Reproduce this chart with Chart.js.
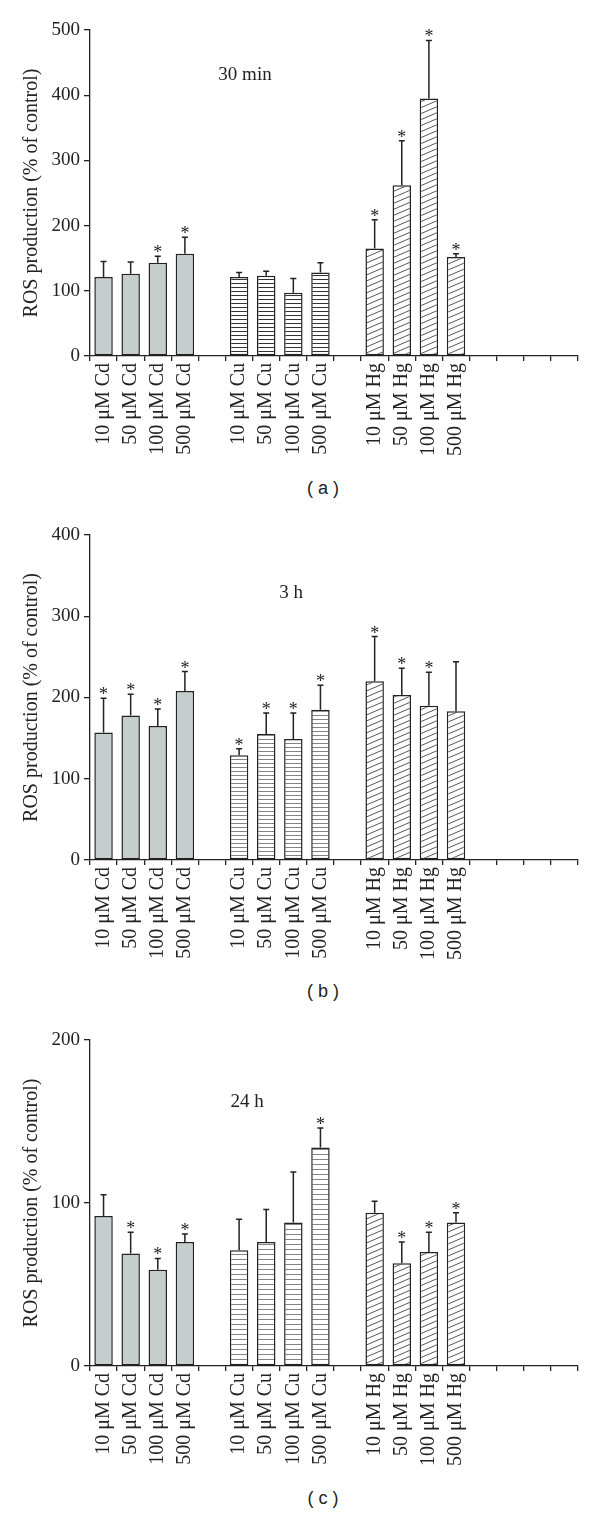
<!DOCTYPE html>
<html>
<head>
<meta charset="utf-8">
<title>ROS production</title>
<script src="https://cdn.jsdelivr.net/npm/chart.js@4.4.1/dist/chart.umd.min.js"></script>
<style>
  body{margin:0;background:#fff;}
  #page{position:relative;width:600px;height:1515px;overflow:hidden;}
  #page canvas{position:absolute;left:0;}
  .cap{position:absolute;left:0;width:646px;height:24px;line-height:24px;text-align:center;
       font:18px "Liberation Sans",Arial,sans-serif;color:#222;}
</style>
</head>
<body>
<div id="page">
  <canvas id="chartA" width="600" height="470" style="top:0px"></canvas>
  <div class="cap" style="top:478px">( a )</div>
  <canvas id="chartB" width="600" height="470" style="top:500px"></canvas>
  <div class="cap" style="top:981px">( b )</div>
  <canvas id="chartC" width="600" height="470" style="top:1010px"></canvas>
  <div class="cap" style="top:1488px">( c )</div>
</div>
<script>
// x axis: 4 doses per metal, one blank slot between metals, 4 blank slots at the end
const doses = ['10', '50', '100', '500'];
const metals = ['Cd', 'Cu', 'Hg'];
const trailingBlanks = 4;

// values (% of control), order: Cd x4, Cu x4, Hg x4
const mean30min = [121, 126, 143, 157, 121, 123, 97, 128, 165, 262, 395, 152];
const sd30min   = [24, 18, 10, 25, 7, 7, 22, 15, 44, 68, 89, 5];
const sig30min  = [0, 0, 1, 1, 0, 0, 0, 0, 1, 1, 1, 1];

const mean3h = [157, 178, 165, 208, 129, 155, 149, 185, 220, 203, 190, 183];
const sd3h   = [42, 26, 21, 24, 8, 26, 32, 30, 55, 33, 41, 61];
const sig3h  = [1, 1, 1, 1, 1, 1, 1, 1, 1, 1, 1, 0];

const mean24h = [92, 69, 59, 76, 71, 76, 88, 134, 94, 63, 70, 88];
const sd24h   = [13, 13, 7, 5, 19, 20, 31, 12, 7, 13, 12, 6];
const sig24h  = [0, 1, 1, 1, 0, 0, 0, 1, 0, 1, 1, 1];

const INK = '#222';
const SERIF = '"Liberation Serif", "Times New Roman", serif';
const CD_FILL = '#c5cecc';

// spread 12 values over the 18 category slots
function spread(arr){
  const out = [];
  metals.forEach((m, g) => {
    if(g > 0) out.push(null);
    out.push(...arr.slice(g * doses.length, (g + 1) * doses.length));
  });
  for(let i = 0; i < trailingBlanks; i++) out.push(null);
  return out;
}

const labels = spread(metals.flatMap(m => doses.map(d => d + ' \u03bcM ' + m))).map(l => l || '');
const metalOf = spread(metals.flatMap(m => doses.map(() => m)));

function hLines(gap){
  const c = document.createElement('canvas');
  c.width = 8; c.height = gap;
  const g = c.getContext('2d');
  g.fillStyle = '#fff'; g.fillRect(0, 0, 8, gap);
  g.fillStyle = '#333'; g.fillRect(0, gap - 1, 8, 1);
  return g.createPattern(c, 'repeat');
}
function dLines(w, h){
  const c = document.createElement('canvas');
  c.width = w; c.height = h;
  const g = c.getContext('2d');
  g.fillStyle = '#fff'; g.fillRect(0, 0, w, h);
  g.strokeStyle = '#444'; g.lineWidth = 0.9;
  g.beginPath();
  for(let k = -1; k <= 1; k++){ g.moveTo(0, h + k * h); g.lineTo(w, k * h); }
  g.stroke();
  return g.createPattern(c, 'repeat');
}

const errorBars = {
  id: 'errorBars',
  afterDatasetsDraw(chart){
    const ds = chart.data.datasets[0];
    const y = chart.scales.y;
    const ctx = chart.ctx;
    ctx.save();
    ctx.strokeStyle = INK; ctx.lineWidth = 1.5;
    ctx.fillStyle = INK;
    ctx.font = '18px ' + SERIF;
    ctx.textAlign = 'center'; ctx.textBaseline = 'alphabetic';
    chart.getDatasetMeta(0).data.forEach((bar, i) => {
      const v = ds.data[i];
      if(v == null) return;
      const top = y.getPixelForValue(v + ds.sd[i]);
      ctx.beginPath();
      ctx.moveTo(bar.x, bar.y); ctx.lineTo(bar.x, top);
      ctx.moveTo(bar.x - 3, top); ctx.lineTo(bar.x + 3, top);
      ctx.stroke();
      if(ds.sig[i]) ctx.fillText('*', bar.x, top + 2);
    });
    const t = chart.options.panel;
    ctx.font = '19px ' + SERIF;
    ctx.textBaseline = 'middle';
    ctx.fillText(t.title, chart.chartArea.left + t.dx, chart.chartArea.top + t.dy);
    ctx.restore();
  }
};

function panel(id, mean, sd, sig, yMax, title, dx, dy, top, axisH, cuGap){
  const hPat = hLines(cuGap), dPat = dLines(14, 6);
  new Chart(document.getElementById(id).getContext('2d'), {
    type: 'bar',
    data: {
      labels: labels,
      datasets: [{
        data: spread(mean),
        sd: spread(sd),
        sig: spread(sig),
        backgroundColor: metalOf.map(m => m === 'Cd' ? CD_FILL : m === 'Cu' ? hPat : dPat),
        borderColor: INK,
        borderWidth: 1.5,
        borderSkipped: false,
        categoryPercentage: 1,
        barPercentage: 0.68
      }]
    },
    options: {
      responsive: false,
      animation: false,
      panel: {title: title, dx: dx, dy: dy},
      layout: {padding: {top: top, right: 22, left: 0, bottom: 0}},
      plugins: {legend: {display: false}, tooltip: {enabled: false}},
      scales: {
        x: {
          ticks: {autoSkip: false, minRotation: 90, maxRotation: 90, color: INK,
                  font: {family: SERIF, size: 20}, padding: 2},
          grid: {drawOnChartArea: false, tickLength: 5, color: INK, lineWidth: 1.3, offset: true},
          border: {color: INK, width: 1.3},
          afterFit(s){ s.height = axisH; }
        },
        y: {
          min: 0, max: yMax,
          ticks: {stepSize: 100, color: INK, font: {family: SERIF, size: 19}, padding: 4},
          grid: {drawOnChartArea: false, tickLength: 6, color: INK, lineWidth: 1.3},
          border: {color: INK, width: 1.3},
          title: {display: true, text: 'ROS production (% of control)', color: INK,
                  font: {family: SERIF, size: 20}, padding: {top: 20, bottom: 0}},
          afterFit(s){ s.width = 90; }
        }
      }
    },
    plugins: [errorBars]
  });
}

panel('chartA', mean30min, sd30min, sig30min, 500, '30 min', 155, 45, 30, 114, 4);
panel('chartB', mean3h, sd3h, sig3h, 400, '3 h', 201, 58, 35, 110, 4.4);
panel('chartC', mean24h, sd24h, sig24h, 200, '24 h', 157, 62, 30, 114, 5.4);
</script>
</body>
</html>
